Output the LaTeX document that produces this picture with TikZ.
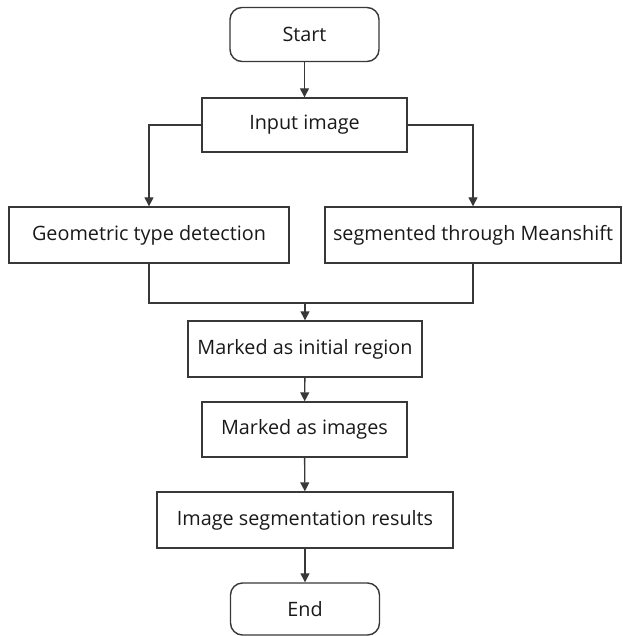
\documentclass[tikz,border=0pt]{standalone}
\usepackage{fontspec}
\setmainfont{Open Sans}
\usetikzlibrary{arrows.meta}

\begin{document}
\begin{tikzpicture}[x=1pt,y=-1pt,
    line width=1.4pt,
    every node/.style={font=\fontsize{19.8}{23}\selectfont,text=black!90},
    termbox/.style={draw=black!78,rounded corners=12pt,minimum width=149pt,minimum height=54pt,inner sep=0pt},
    procbox/.style={draw=black!78,minimum height=56pt,inner sep=0pt},
    flow/.style={draw=black!78,-{Triangle[length=9pt,width=9pt]}}]
  \useasboundingbox (0,0) rectangle (622,636);

  \node[termbox] (start) at (304.5,34.5) {Start};
  \node[procbox,minimum width=205pt,minimum height=54pt] (input) at (304.5,125) {Input image};
  \node[procbox,minimum width=280pt] (geom) at (149,235) {Geometric type detection};
  \node[procbox,minimum width=296pt] (shift) at (473,235) {segmented through Meanshift};
  \node[procbox,minimum width=234pt] (initreg) at (305,349) {Marked as initial region};
  \node[procbox,minimum width=205pt,minimum height=55pt] (marked) at (304.5,429.5) {Marked as images};
  \node[procbox,minimum width=296pt] (result) at (305,520) {Image segmentation results};
  \node[termbox,minimum height=52pt] (end) at (305,609) {End};

  \coordinate (join) at (305,303);

  \draw[flow] (start) -- (input);
  \draw[flow] (input.west) -| (geom.north);
  \draw[flow] (input.east) -| (shift.north);
  \draw[draw=black!78] (geom.south) |- (join) -| (shift.south);
  \draw[flow] (join) -- (initreg.north);
  \draw[flow] (initreg) -- (marked);
  \draw[flow] (marked) -- (result);
  \draw[flow] (result) -- (end);
\end{tikzpicture}
\end{document}
